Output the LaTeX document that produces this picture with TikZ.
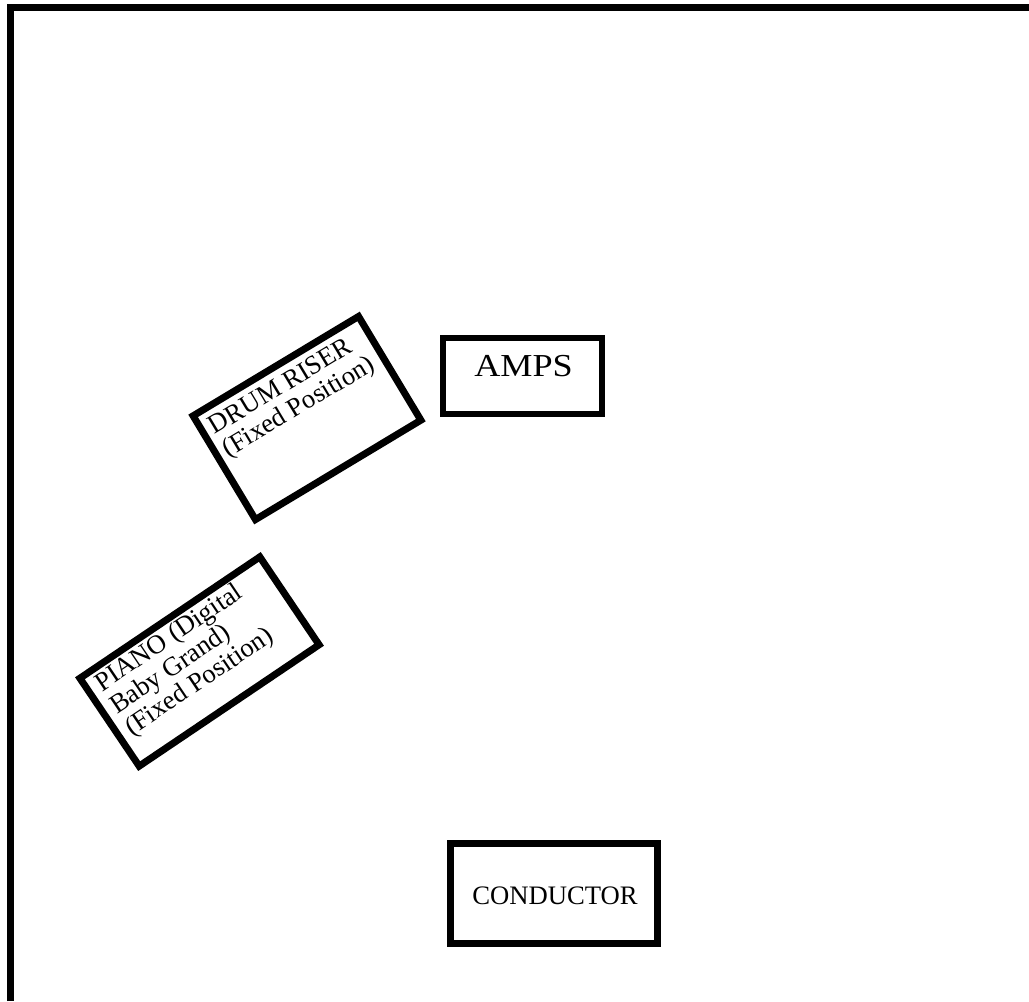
\documentclass[tikz,border=0pt]{standalone}
\usepackage{fontspec}
\setmainfont{Liberation Serif}
\begin{document}
\begin{tikzpicture}[x=0.75pt,y=-0.75pt,
  stagebox/.style={draw=black, fill=white, inner sep=0pt, line width=5.25pt},
  boxlabel/.style={inner sep=0pt, align=left, font=\fontsize{20}{20}\selectfont}]
\useasboundingbox (0,0) rectangle (1029,1001);
% stage outline (left and top walls)
\coordinate (wallbottom) at (10,1001);
\coordinate (wallcorner) at (10,7.5);
\coordinate (wallright) at (1029,7.5);
\draw[line width=5.25pt, line join=miter] (wallbottom) -- (wallcorner) -- (wallright);
% AMPS
\node[stagebox, line width=4.5pt, minimum width=119.25pt, minimum height=57pt] (amps) at (522.5,376) {};
\node[inner sep=0pt, anchor=base, xscale=1.13, font=\fontsize{24}{28}\selectfont] (ampstext) at (523.5,376.5) {AMPS};
% CONDUCTOR
\node[stagebox, minimum width=155.25pt, minimum height=75pt] (conductor) at (554,893.5) {};
\node[inner sep=0pt, anchor=base, font=\fontsize{20}{24}\selectfont] (conductortext) at (555,904) {CONDUCTOR};
% DRUM RISER
\begin{scope}[shift={(307,418)}, rotate=31]
  \node[stagebox, transform shape, minimum width=144.75pt, minimum height=90.75pt] (drum) at (0,0) {};
  \node[boxlabel, anchor=base west, transform shape] (drumtext) at (-88,-6.3) {DRUM RISER\\(Fixed Position)};
\end{scope}
% PIANO
\begin{scope}[shift={(199.5,661.5)}, rotate=34]
  \node[stagebox, transform shape, minimum width=162.75pt, minimum height=79.5pt] (piano) at (0,0) {};
  \node[boxlabel, anchor=base west, transform shape] (pianotext) at (-98,24.4) {PIANO (Digital\\Baby Grand)\\(Fixed Position)};
\end{scope}
\end{tikzpicture}
\end{document}
